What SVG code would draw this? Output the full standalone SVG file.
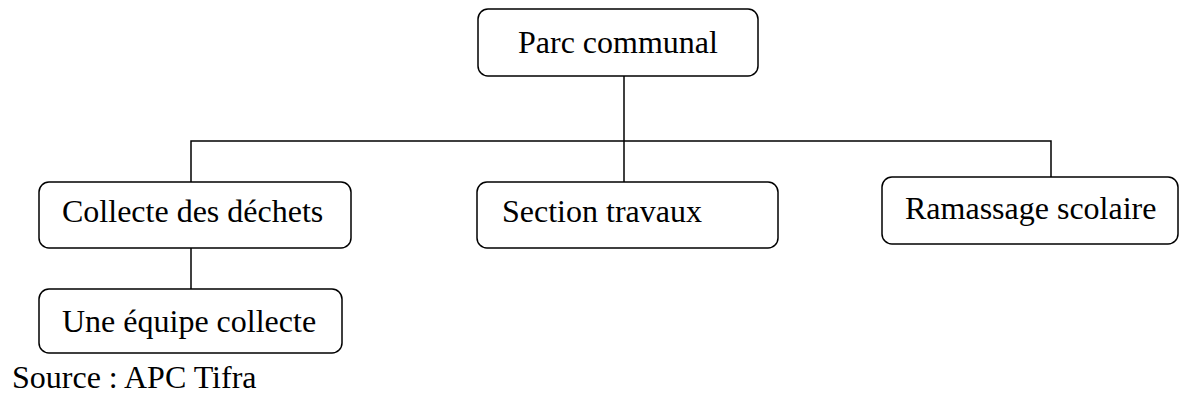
<svg xmlns="http://www.w3.org/2000/svg" width="1179" height="394" viewBox="0 0 1179 394">
  <style>
    .box { fill: #ffffff; stroke: #000000; stroke-width: 1.5; }
    .lbl { font-family: "Liberation Serif", "Times New Roman", serif; font-size: 32px; fill: #000000; }
    .wire { fill: none; stroke: #000000; stroke-width: 1.5; }
  </style>
  <rect width="1179" height="394" fill="#ffffff"/>

  <!-- connectors -->
  <g id="connectors">
    <line class="wire" x1="624" y1="76" x2="624" y2="182"/>
    <polyline class="wire" points="191,182 191,141 1051,141 1051,177"/>
    <line class="wire" x1="191" y1="248" x2="191" y2="289"/>
  </g>

  <g id="parc-communal">
    <rect class="box" x="478" y="9" width="280" height="67" rx="10"/>
    <text class="lbl" x="518" y="53">Parc communal</text>
  </g>

  <g id="collecte-dechets">
    <rect class="box" x="39" y="182" width="312" height="66" rx="10"/>
    <text class="lbl" x="62" y="222">Collecte des déchets</text>
  </g>

  <g id="section-travaux">
    <rect class="box" x="477" y="182" width="301" height="66" rx="10"/>
    <text class="lbl" x="502" y="222">Section travaux</text>
  </g>

  <g id="ramassage-scolaire">
    <rect class="box" x="882" y="177" width="296" height="67" rx="10"/>
    <text class="lbl" x="905" y="219">Ramassage scolaire</text>
  </g>

  <g id="equipe-collecte">
    <rect class="box" x="39" y="289" width="303" height="64" rx="10"/>
    <text class="lbl" x="62" y="332">Une équipe collecte</text>
  </g>

  <text class="lbl" x="12" y="388">Source : APC Tifra</text>
</svg>
